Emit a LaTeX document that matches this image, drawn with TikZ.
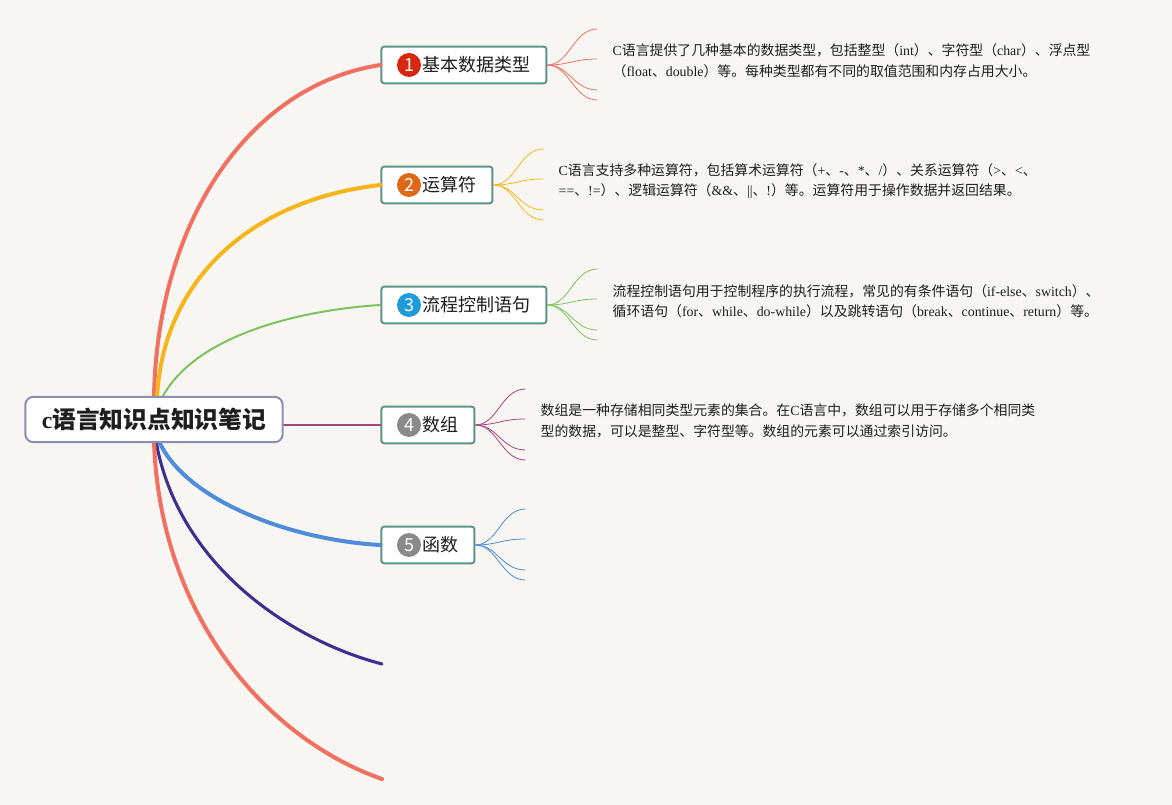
\documentclass[tikz,border=0pt]{standalone}
\usepackage{fontspec}
\setmainfont{Noto Sans CJK SC}
\newfontfamily\latin{Liberation Serif}
\newcommand\latn[1]{{\latin #1}}
\usepackage{tikz}
\usetikzlibrary{positioning,fit,backgrounds}
\definecolor{bgpaper}{HTML}{F8F6F3}
\definecolor{textdark}{HTML}{1E1E1E}
\definecolor{rootline}{HTML}{8B8FAF}
\definecolor{topicline}{HTML}{5F9488}
\definecolor{csalmon}{HTML}{F2705F}
\definecolor{cyellow}{HTML}{F6B619}
\definecolor{cgreen}{HTML}{7CC35B}
\definecolor{cplum}{HTML}{A2467F}
\definecolor{cblue}{HTML}{4D8CD9}
\definecolor{cindigo}{HTML}{3E2F8F}
\definecolor{bred}{HTML}{D9260F}
\definecolor{borange}{HTML}{E0661A}
\definecolor{bblue}{HTML}{1E9BD8}
\definecolor{bgray}{HTML}{8A8A8A}

\begin{document}
\begin{tikzpicture}[
  x=0.75pt, y=-0.75pt,
  root/.style={draw=rootline, fill=white, line width=1.5pt, rounded corners=6pt, minimum width=193pt, minimum height=34pt, inner sep=0pt, text=textdark, font=\fontsize{17.8}{20}\selectfont\bfseries},
  badge/.style={circle, inner sep=0pt, minimum size=18pt, text=white, font=\fontsize{13.5}{14}\selectfont},
  topiclabel/.style={inner sep=0pt, text=textdark, font=\fontsize{13.5}{15}\selectfont},
  topic/.style={draw=topicline, fill=white, line width=1.5pt, rounded corners=2pt, inner xsep=11.5pt, inner ysep=4.5pt},
  desc/.style={inner sep=0pt, align=left, anchor=west, yshift=3pt, text=textdark, font=\fontsize{10.4}{15.4}\selectfont},
  branch/.style={line cap=round},
  fan/.style={line width=0.6pt},
  node distance=0pt
]

\begin{scope}[on background layer]
\fill[bgpaper] (0,0) rectangle (1172,805);
\end{scope}
\useasboundingbox (0,0) rectangle (1172,805);

% ---------- Root ----------
\node[root] (root) at (154,419.5) {\latn{c}语言知识点知识笔记};

% ---------- Topics ----------
\node[badge, fill=bred] (b1) at (409,65) {1};
\node[topiclabel, right=1pt of b1] (l1) {基本数据类型};
\node[badge, fill=borange] (b2) at (409,185) {2};
\node[topiclabel, right=1pt of b2] (l2) {运算符};
\node[badge, fill=bblue] (b3) at (409,305) {3};
\node[topiclabel, right=1pt of b3] (l3) {流程控制语句};
\node[badge, fill=bgray] (b4) at (409,425) {4};
\node[topiclabel, right=1pt of b4] (l4) {数组};
\node[badge, fill=bgray] (b5) at (409,545) {5};
\node[topiclabel, right=1pt of b5] (l5) {函数};

\begin{scope}[on background layer]
\foreach \k in {1,...,5}
  \node[topic, fit=(b\k)(l\k)] (t\k) {};
\end{scope}

% ---------- Descriptions ----------
\node[desc, right=48.75pt of t1.east] (d1) {\latn{C}语言提供了几种基本的数据类型，包括整型（\latn{int}）、字符型（\latn{char}）、浮点型\\（\latn{float}、\latn{double}）等。每种类型都有不同的取值范围和内存占用大小。};
\node[desc, right=48.75pt of t2.east] (d2) {\latn{C}语言支持多种运算符，包括算术运算符（\latn{+}、\latn{-}、\latn{*}、\latn{/}）、关系运算符（\latn{>}、\latn{<}、\\\latn{==}、\latn{!=}）、逻辑运算符（\latn{\&\&}、\latn{||}、\latn{!}）等。运算符用于操作数据并返回结果。};
\node[desc, right=48.75pt of t3.east] (d3) {流程控制语句用于控制程序的执行流程，常见的有条件语句（\latn{if-else}、\latn{switch}）、\\循环语句（\latn{for}、\latn{while}、\latn{do-while}）以及跳转语句（\latn{break}、\latn{continue}、\latn{return}）等。};
\node[desc, right=48.75pt of t4.east] (d4) {数组是一种存储相同类型元素的集合。在\latn{C}语言中，数组可以用于存储多个相同类\\型的数据，可以是整型、字符型等。数组的元素可以通过索引访问。};

% ---------- Free ends of the last two branches ----------
\coordinate (e6) at (382,664);
\coordinate (e7) at (382,779);

% ---------- Branches ----------
\begin{scope}[on background layer]
\draw[branch, csalmon, line width=3pt] ([shift={(0,2)}]root.north) .. controls (157,220) and (250,85) .. (t1.west);
\draw[branch, cyellow, line width=3pt] ([shift={(3,2)}]root.north) .. controls (163,280) and (250,200) .. (t2.west);
\draw[branch, cgreen, line width=1.5pt] ([shift={(8,2)}]root.north) .. controls (195,335) and (300,310) .. (t3.west);
\draw[branch, cplum, line width=1.5pt] (t4.west -| root.east) -- (t4.west);
\draw[branch, cblue, line width=3pt] ([shift={(5,-2)}]root.south) .. controls (185,500) and (290,540) .. (t5.west);
\draw[branch, cindigo, line width=2.3pt] ([shift={(2,-2)}]root.south) .. controls (178,565) and (290,640) .. (e6);
\draw[branch, csalmon, line width=3pt] ([shift={(0,-2)}]root.south) .. controls (160,620) and (270,740) .. (e7);
\end{scope}

% ---------- Fans ----------
\foreach \t/\c in {t1/csalmon, t2/cyellow, t3/cgreen, t4/cplum, t5/cblue}
  \foreach \dy [count=\k] in {-36,-6,25,35} {
    \coordinate (\t f\k) at ([shift={(50,\dy)}]\t.east);
    \draw[fan, \c] (\t.east) .. controls +(22,0) and +(-24,0) .. (\t f\k);
  }

\end{tikzpicture}
\end{document}
